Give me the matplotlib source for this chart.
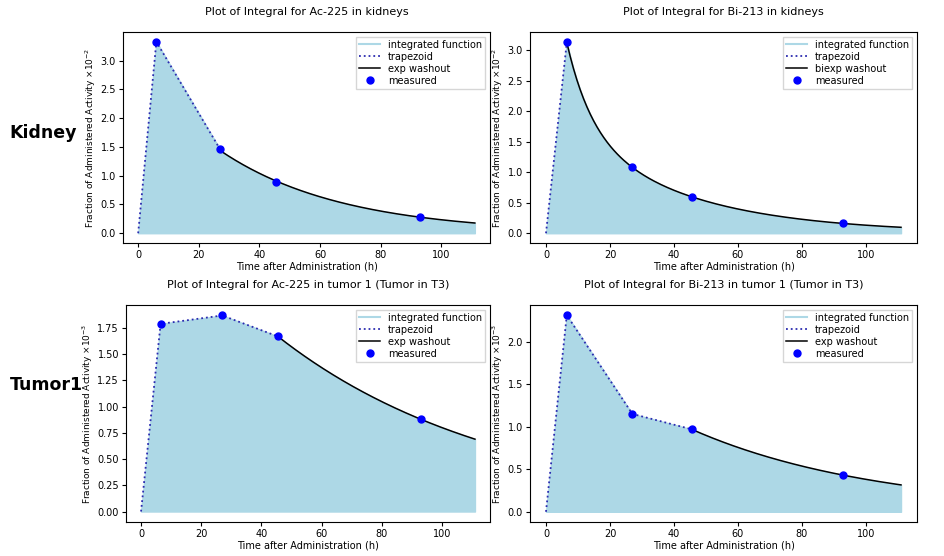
import matplotlib.pyplot as plt
import numpy as np

# 測定時刻 (h)
t_kid_ac = [6.0, 27.0, 45.5, 93.0]
t_kid_bi = [6.5, 27.0, 45.5, 93.0]
t_tum_ac = [6.5, 27.0, 45.5, 93.0]
t_tum_bi = [6.5, 27.0, 45.5, 93.0]

# 測定値 (スケール済み)
y_kid_ac = [3.33, 1.46, 0.89, 0.28]
y_kid_bi = [3.13, 1.08, 0.59, 0.16]
y_tum_ac = [1.79, 1.87, 1.67, 0.88]
y_tum_bi = [2.31, 1.15, 0.97, 0.43]

t_end = 111.0

titles = [
    "Plot of Integral for Ac-225 in kidneys",
    "Plot of Integral for Bi-213 in kidneys",
    "Plot of Integral for Ac-225 in tumor 1 (Tumor in T3)",
    "Plot of Integral for Bi-213 in tumor 1 (Tumor in T3)",
]


def exp_fit(t, y):
    k, ln_a = np.polyfit(t, np.log(y), 1)
    return lambda x: np.exp(ln_a + k * x)


def biexp_fit(t, y):
    # slow component from last two points, fast component by peeling
    slow = exp_fit(t[-2:], y[-2:])
    resid = np.array(y[:2]) - slow(np.array(t[:2]))
    fast = exp_fit(t[:2], resid)
    return lambda x: slow(x) + fast(x)


def panel(ax, t, y, start, fit, label, title, yexp, yticks):
    t = list(t)
    y = list(y)
    fit = fit(t[start:], y[start:]) if fit is exp_fit else fit(t, y)
    xc = np.linspace(t[start], t_end, 200)
    yc = fit(xc)
    xt = [0.0] + t[: start + 1]
    yt = [0.0] + y[: start + 1]
    xf = np.concatenate([xt, xc])
    yf = np.concatenate([yt, yc])
    ax.fill_between(xf, 0, yf, color="lightblue")
    ax.plot([], [], color="lightblue", lw=1.5, label="integrated function")
    ax.plot(xt, yt, ":", color="#2b2bb0", lw=1.3, label="trapezoid")
    ax.plot(xc, yc, "-", color="black", lw=1.1, label=label)
    ax.plot(t, y, "o", color="blue", ms=5, label="measured")
    ax.set_title(title, fontsize=8, pad=12)
    ax.set_xlabel("Time after Administration (h)", fontsize=7, labelpad=1)
    ax.set_ylabel(f"Fraction of Administered Activity ×10$^{{{yexp}}}$",
                  fontsize=6.5, labelpad=2)
    ax.set_xlim(-5, 116)
    ax.set_yticks(yticks)
    ax.tick_params(labelsize=7, length=3, pad=2)
    ax.legend(loc="upper right", fontsize=7, borderpad=0.3, labelspacing=0.2,
              handlelength=2.2, fancybox=False)


fig = plt.figure(figsize=(9.44, 5.56), dpi=100)
W, H = 944, 556
boxes = [(123, 32, 490, 243), (530, 32, 917, 243),
         (126, 305, 490, 522), (530, 305, 917, 522)]
axes = [fig.add_axes([l / W, 1 - b / H, (r - l) / W, (b - t) / H]) for l, t, r, b in boxes]

panel(axes[0], t_kid_ac, y_kid_ac, 1, exp_fit, "exp washout", titles[0], "-2",
      np.arange(0, 3.01, 0.5))
axes[0].set_ylim(-0.17, 3.5)
panel(axes[1], t_kid_bi, y_kid_bi, 0, biexp_fit, "biexp washout", titles[1], "-2",
      np.arange(0, 3.01, 0.5))
axes[1].set_ylim(-0.16, 3.3)
panel(axes[2], t_tum_ac, y_tum_ac, 2, exp_fit, "exp washout", titles[2], "-3",
      np.arange(0, 1.76, 0.25))
axes[2].set_ylim(-0.1, 1.97)
panel(axes[3], t_tum_bi, y_tum_bi, 2, exp_fit, "exp washout", titles[3], "-3",
      np.arange(0, 2.01, 0.5))
axes[3].set_ylim(-0.12, 2.43)

fig.text(0.01, 1 - 133 / H, "Kidney", fontsize=12.5, fontweight="bold", va="center")
fig.text(0.01, 1 - 385 / H, "Tumor1", fontsize=12.5, fontweight="bold", va="center")

fig.savefig("out.png", dpi=100)
